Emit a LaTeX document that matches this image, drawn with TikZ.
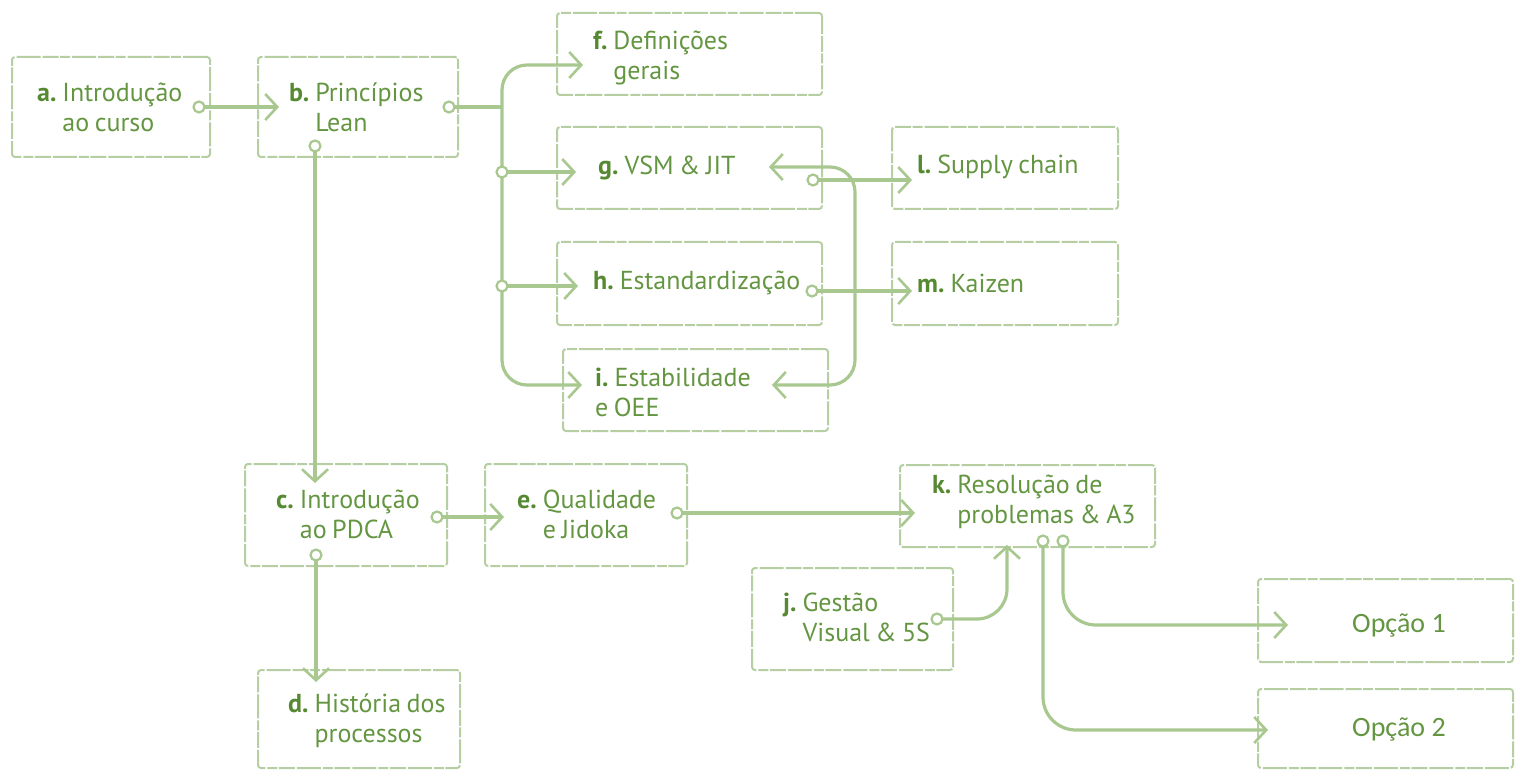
\documentclass[tikz,border=0pt]{standalone}
\usepackage{fontspec}
\setmainfont[WordSpace=0.8]{PT Sans}
\newfontfamily\calib{Carlito}
\usetikzlibrary{arrows.meta}
\definecolor{txt}{RGB}{100,150,66}
\definecolor{txtb}{RGB}{86,138,50}
\definecolor{ln}{RGB}{168,200,144}
\definecolor{bx}{RGB}{182,207,162}
\newcommand{\lb}[1]{\textbf{\color{txtb}#1}\hspace{6pt}}
\tikzset{
  box/.style={draw=bx, line width=2pt, dash pattern=on 24pt off 2pt on 10pt off 1.5pt on 16pt off 2pt, rounded corners=3pt, anchor=north west, inner sep=0pt, outer sep=0pt},
  lbl/.style={anchor=west, align=left, text=txt, font=\fontsize{26}{30}\selectfont, inner sep=0pt},
  opt/.style={anchor=west, text=txt, font=\calib\fontsize{28}{30}\selectfont, inner sep=0pt},
  conn/.style={draw=ln, line width=3.2pt},
  barb/.tip={Straight Barb[length=12pt,width=26pt,line width=2.6pt]},
  arr/.style={-barb},
  dot/.style={circle, draw=ln, fill=white, line width=2.2pt, minimum size=11pt, inner sep=0pt},
}
\begin{document}
\begin{tikzpicture}[x=1pt,y=-1pt]
\useasboundingbox (0,0) rectangle (1521,770);
% boxes
\node[box, minimum width=198pt, minimum height=100pt] (a) at (12,57) {};
\node[box, minimum width=200pt, minimum height=100pt] (b) at (258,57) {};
\node[box, minimum width=265pt, minimum height=82pt] (f) at (557,13) {};
\node[box, minimum width=265pt, minimum height=82pt] (g) at (557,127) {};
\node[box, minimum width=265pt, minimum height=83pt] (h) at (557,242) {};
\node[box, minimum width=265pt, minimum height=82pt] (i) at (563,349) {};
\node[box, minimum width=226pt, minimum height=82pt] (l) at (892,127) {};
\node[box, minimum width=226pt, minimum height=83pt] (m) at (892,242) {};
\node[box, minimum width=202pt, minimum height=102pt] (c) at (245,464) {};
\node[box, minimum width=202pt, minimum height=102pt] (e) at (485,464) {};
\node[box, minimum width=202pt, minimum height=98pt] (d) at (258,670) {};
\node[box, minimum width=255pt, minimum height=82pt] (k) at (900,465) {};
\node[box, minimum width=201pt, minimum height=102pt] (j) at (752,568) {};
\node[box, minimum width=255pt, minimum height=83pt] (o1) at (1258,579) {};
\node[box, minimum width=255pt, minimum height=79pt] (o2) at (1258,689) {};
% texts
\node[lbl] (at) at (37,107) {\lb{a.}Introdução\\\phantom{\lb{a.}}ao curso};
\node[lbl] (bt) at (289,107) {\lb{b.}Princípios\\\phantom{\lb{b.}}Lean};
\node[lbl] (ft) at (593,58) {\lb{f.}Definições\\\phantom{\lb{f.}}gerais};
\node[lbl] (gt) at (598,168) {\lb{g.}VSM \& JIT};
\node[lbl] (ht) at (593,283) {\lb{h.}Estandardização};
\node[lbl] (it) at (595,392) {\lb{i.}Estabilidade\\e OEE};
\node[lbl] (lt) at (917,167) {\lb{l.}Supply chain};
\node[lbl] (mt) at (917,283) {\lb{m.}Kaizen};
\node[lbl] (ct) at (276,514) {\lb{c.}Introdução\\\phantom{\lb{c.}}ao PDCA};
\node[lbl] (et) at (517,514) {\lb{e.}Qualidade\\\phantom{\lb{e.}}e Jidoka};
\node[lbl] (dt) at (288,721) {\lb{d.}História dos\\\phantom{\lb{d.}}processos};
\node[lbl] (kt) at (932,502) {\lb{k.}Resolução de\\\phantom{\lb{k.}}problemas \& A3};
\node[lbl] (jt) at (783,620) {\lb{j.}Gestão\\\phantom{\lb{j.}}Visual \& 5S};
\node[opt] (o1t) at (1352,625) {Opção 1};
\node[opt] (o2t) at (1352,729) {Opção 2};
% connector coordinates
\coordinate (a-o) at (199,107);
\coordinate (b-in) at (279,107);
\coordinate (b-o) at (449,107);
\coordinate (bus) at (502,107);
\coordinate (f-in) at (583,65);
\coordinate (g-d) at (502,172);
\coordinate (g-in) at (576,172);
\coordinate (h-d) at (502,286);
\coordinate (h-in) at (578,286);
\coordinate (i-in) at (582,385);
\coordinate (g-back) at (769,167);
\coordinate (i-back) at (772,385);
\coordinate (loopt) at (855,167);
\coordinate (loopb) at (855,385);
\coordinate (g-o) at (813,180);
\coordinate (l-in) at (912,180);
\coordinate (h-o) at (812,291);
\coordinate (m-in) at (912,291);
\coordinate (b-b) at (315,146);
\coordinate (c-in) at (315,483);
\coordinate (c-o) at (437,517);
\coordinate (e-in) at (504,517);
\coordinate (c-b) at (316,555);
\coordinate (d-in) at (316,682);
\coordinate (e-o) at (677,513);
\coordinate (k-in) at (915,513);
\coordinate (j-o) at (937,619);
\coordinate (k-in2) at (1007,545);
\coordinate (k-o1) at (1043,541);
\coordinate (k-o2) at (1063,541);
\coordinate (o1-in) at (1288,625);
\coordinate (o2-in) at (1268,730);
% connectors
\draw[conn,arr] (a-o) -- (b-in);
\draw[conn] (b-o) -- (bus);
\draw[conn,arr,rounded corners=25pt] (bus) |- (f-in);
\draw[conn,arr,rounded corners=25pt] (bus) |- (i-in);
\draw[conn,arr] (g-d) -- (g-in);
\draw[conn,arr] (h-d) -- (h-in);
\draw[conn,barb-barb,rounded corners=25pt] (g-back) -- (loopt) -- (loopb) -- (i-back);
\draw[conn,arr] (g-o) -- (l-in);
\draw[conn,arr] (h-o) -- (m-in);
\draw[conn,arr] (b-b) -- (c-in);
\draw[conn,arr] (c-o) -- (e-in);
\draw[conn,arr] (c-b) -- (d-in);
\draw[conn,arr] (e-o) -- (k-in);
\draw[conn,arr,rounded corners=30pt] (j-o) -| (k-in2);
\draw[conn,arr,rounded corners=33pt] (k-o2) |- (o1-in);
\draw[conn,arr,rounded corners=33pt] (k-o1) |- (o2-in);
% dots
\foreach \p in {a-o,b-o,g-d,h-d,g-o,h-o,b-b,c-o,c-b,e-o,j-o,k-o1,k-o2}
  \node[dot] at (\p) {};
\end{tikzpicture}
\end{document}
